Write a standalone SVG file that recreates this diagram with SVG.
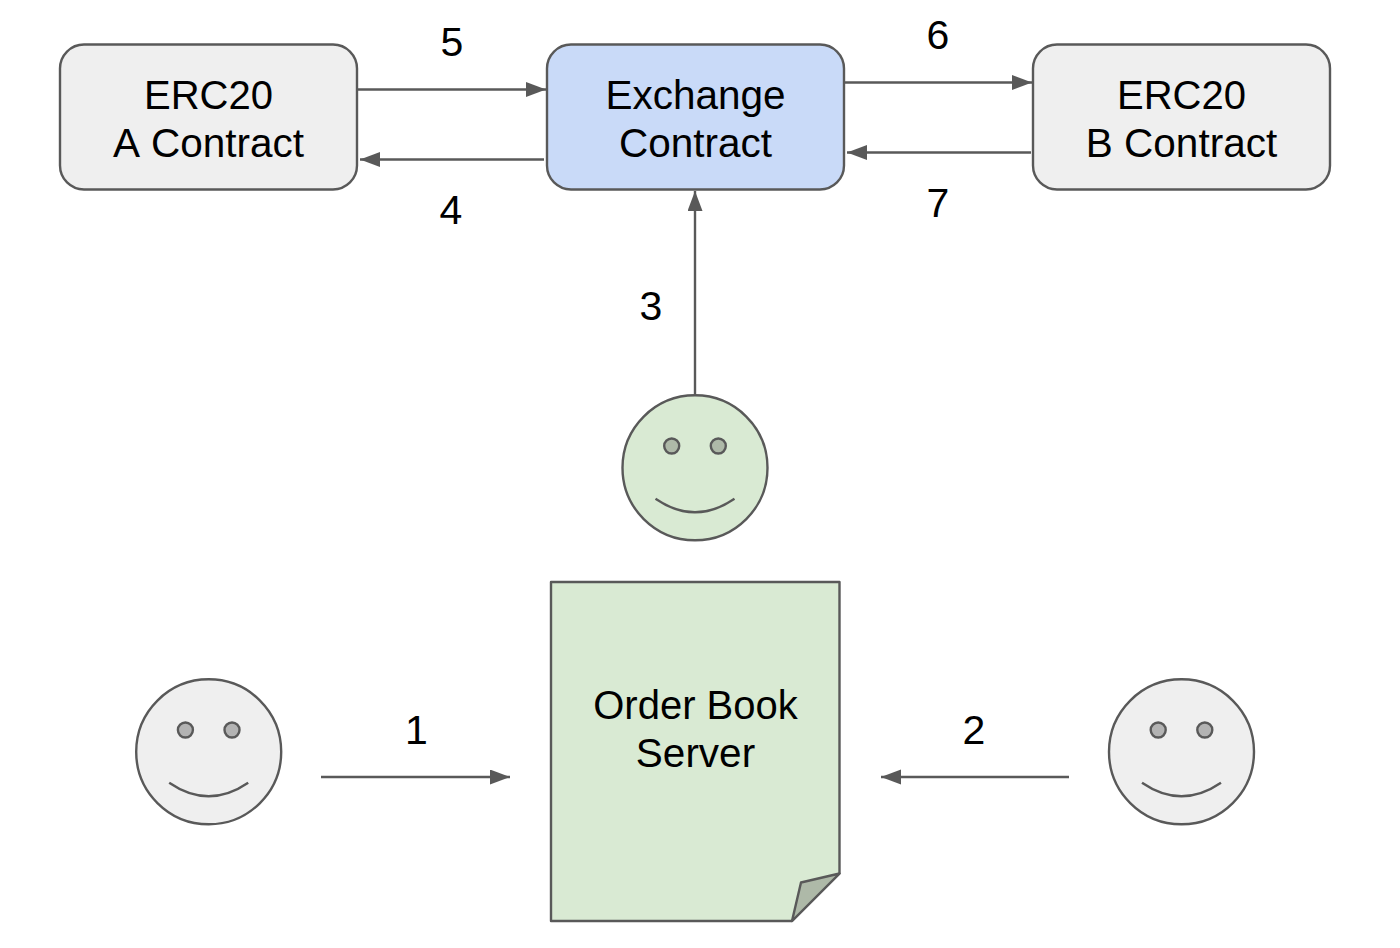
<svg xmlns="http://www.w3.org/2000/svg" width="1400" height="948" viewBox="0 0 1400 948">
<style>
.s{stroke:#595959;stroke-width:2.4;stroke-linejoin:round}
.g{fill:#efefef}.b{fill:#c9daf8}.v{fill:#d9ead3}
.e{fill:#aeb9a8}.eg{fill:#b3b3b3}
.m{fill:none}
.c{fill:none;stroke:#595959;stroke-width:2.4}
text{font-family:"Liberation Sans",Arial,sans-serif;font-size:40.500px;fill:#000;text-anchor:middle}
.t{font-size:40px}
.n{font-size:41px}
</style>
<defs>
<marker id="a" markerUnits="userSpaceOnUse" markerWidth="21" markerHeight="16" refX="20" refY="7.500" orient="auto"><path d="M0 0L20 7.500L0 15Z" fill="#595959"/></marker>
</defs>
<rect width="1400" height="948" fill="#fff"/>
<g id="connectors">
<path d="M358 89.500H546" class="c" marker-end="url(#a)"/>
<path d="M544 159.500H360" class="c" marker-end="url(#a)"/>
<path d="M845 82.500H1032" class="c" marker-end="url(#a)"/>
<path d="M1031 152.500H847" class="c" marker-end="url(#a)"/>
<path d="M695 394V191" class="c" marker-end="url(#a)"/>
<path d="M321 777H510" class="c" marker-end="url(#a)"/>
<path d="M1069 777H881" class="c" marker-end="url(#a)"/>
</g>
<g id="erc20a"><rect x="60" y="44.500" width="297" height="145" rx="24" class="s g"/><text x="208.500" y="109" class="t">ERC20</text><text x="208.500" y="157" word-spacing="2">A Contract</text></g>
<g id="exchange"><rect x="547" y="44.500" width="297" height="145" rx="24" class="s b"/><text x="695.500" y="109">Exchange</text><text x="695.500" y="157">Contract</text></g>
<g id="erc20b"><rect x="1033" y="44.500" width="297" height="145" rx="24" class="s g"/><text x="1181.500" y="109" class="t">ERC20</text><text x="1181.500" y="157">B Contract</text></g>
<g id="trader-top" transform="translate(695 467.800)"><circle r="72.500" class="s v"/><circle cx="-23.300" cy="-21.800" r="7.500" class="s e"/><circle cx="23.300" cy="-21.800" r="7.500" class="s e"/><path d="M-39.500 31Q0 58 39.500 31" class="s m"/></g>
<g id="trader-left" transform="translate(208.700 751.800)"><circle r="72.500" class="s g"/><circle cx="-23.300" cy="-21.800" r="7.500" class="s eg"/><circle cx="23.300" cy="-21.800" r="7.500" class="s eg"/><path d="M-39.500 31Q0 58 39.500 31" class="s m"/></g>
<g id="trader-right" transform="translate(1181.500 751.800)"><circle r="72.500" class="s g"/><circle cx="-23.300" cy="-21.800" r="7.500" class="s eg"/><circle cx="23.300" cy="-21.800" r="7.500" class="s eg"/><path d="M-39.500 31Q0 58 39.500 31" class="s m"/></g>
<g id="order-book"><path d="M551 582H839.500V873.500L792 921H551Z" class="s v"/><path d="M839.500 873.500L801 882.500L792 921Z" class="s e"/><text x="695.500" y="719" class="t">Order Book</text><text x="695.500" y="767">Server</text></g>
<g id="labels"><text x="452" y="56" class="n">5</text><text x="451" y="224" class="n">4</text><text x="938" y="49" class="n">6</text><text x="938" y="217" class="n">7</text><text x="651" y="319.500" class="n">3</text><text x="416.500" y="743.500" class="n">1</text><text x="974" y="743.500" class="n">2</text></g>
</svg>
